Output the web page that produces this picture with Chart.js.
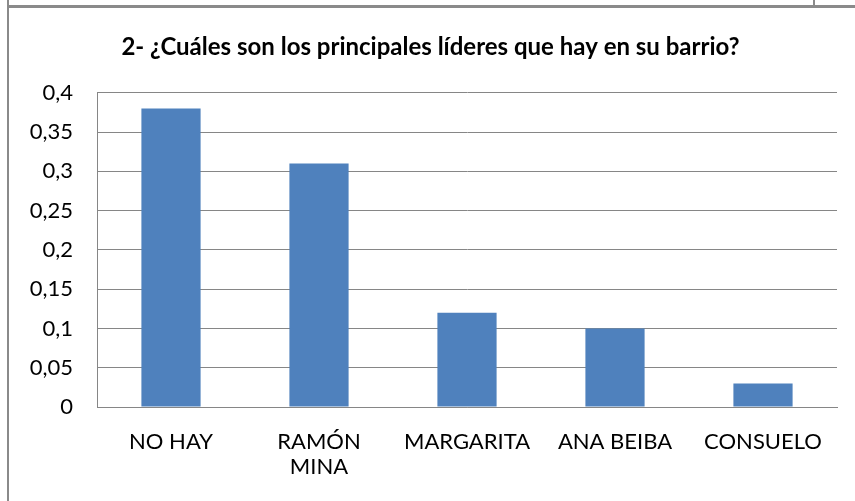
<!DOCTYPE html>
<html lang="es">
<head>
<meta charset="utf-8">
<title>Líderes del barrio</title>
<script src="https://cdn.jsdelivr.net/npm/chart.js@4.4.1/dist/chart.umd.min.js"></script>
<style>
  html, body { margin: 0; padding: 0; background: #fff; }
  #marco { position: relative; width: 855px; height: 501px; overflow: hidden; }
  #marco canvas { position: absolute; left: 0; top: 0; }
  /* bordes del recorte del documento original */
  .linea { position: absolute; background: #8a8a8a; }
</style>
</head>
<body>
<div id="marco">
  <canvas id="grafica" width="855" height="501"></canvas>
  <div class="linea" style="left:7px; top:0; width:2px; height:501px;"></div>
  <div class="linea" style="left:7px; top:5px; width:848px; height:3px;"></div>
  <div class="linea" style="left:813px; top:0; width:2px; height:6px;"></div>
</div>
<script>
// Datos
const categorias = ['NO HAY', ['RAMÓN', 'MINA'], 'MARGARITA', 'ANA BEIBA', 'CONSUELO'];
const valores = [0.38, 0.31, 0.12, 0.10, 0.03];
const marcasY = [0, 0.05, 0.1, 0.15, 0.2, 0.25, 0.3, 0.35, 0.4];
const titulo = '2- ¿Cuáles son los principales líderes que hay en su barrio?';

const COLORES = {
  barra: '#4F81BD',
  rejilla: '#868686',
  texto: '#000000'
};

const fuente = "Lato, 'Open Sans', sans-serif";

new Chart(document.getElementById('grafica').getContext('2d'), {
  type: 'bar',
  data: {
    labels: categorias,
    datasets: [{
      data: valores,
      backgroundColor: COLORES.barra,
      borderWidth: 0,
      barPercentage: 0.4,
      categoryPercentage: 1
    }]
  },
  options: {
    responsive: false,
    animation: false,
    layout: { padding: { left: 24, right: 18, top: 0, bottom: 0 } },
    plugins: {
      legend: { display: false },
      tooltip: { enabled: false },
      title: {
        display: true,
        text: titulo,
        color: COLORES.texto,
        font: { family: fuente, size: 24, weight: 'bold', lineHeight: 1.2 },
        padding: { top: 33, bottom: 31 }
      }
    },
    scales: {
      x: {
        grid: { display: false, drawTicks: false },
        border: { display: true, color: COLORES.rejilla, width: 1 },
        ticks: {
          color: COLORES.texto,
          padding: 22,
          maxRotation: 0,
          autoSkip: false,
          font: { family: fuente, size: 22, lineHeight: 1.15 }
        },
        afterFit: (escala) => { escala.height = 94; }
      },
      y: {
        min: 0,
        max: 0.4,
        grid: { color: COLORES.rejilla, drawTicks: false },
        border: { display: true, color: COLORES.rejilla, width: 1 },
        afterBuildTicks: (escala) => { escala.ticks = marcasY.map(v => ({ value: v })); },
        ticks: {
          color: COLORES.texto,
          padding: 24,
          font: { family: fuente, size: 22 },
          callback: (valor) => String(Math.round(valor * 100) / 100).replace('.', ',')
        },
        afterFit: (escala) => { escala.width = 73; }
      }
    }
  }
});
</script>
</body>
</html>
